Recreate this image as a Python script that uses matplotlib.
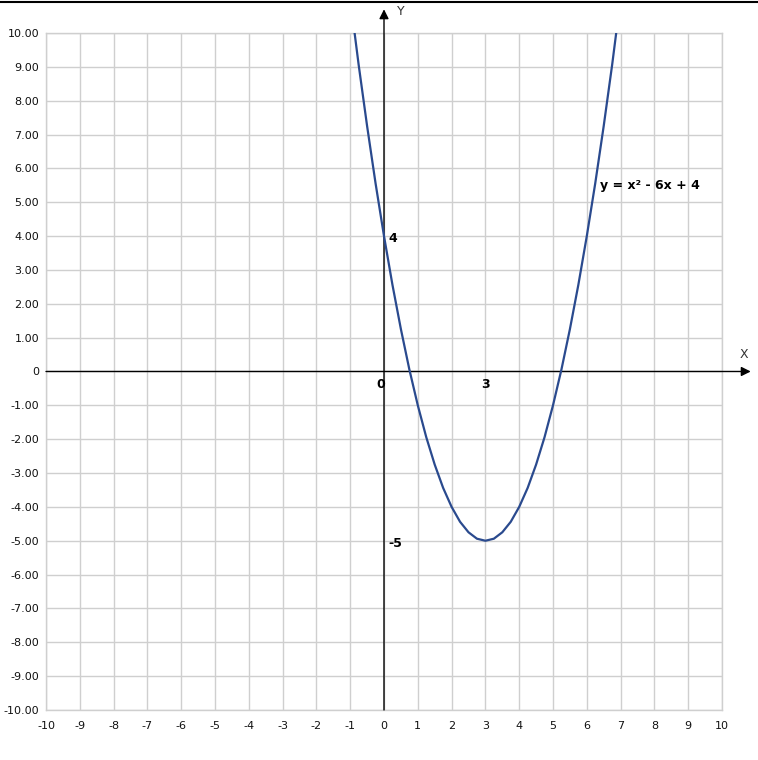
import matplotlib
matplotlib.use("Agg")
import matplotlib.pyplot as plt
from matplotlib.lines import Line2D
from matplotlib.ticker import FuncFormatter

plt.rcParams["axes.unicode_minus"] = False

curve_x = [-0.87, -0.75, -0.5, -0.25, 0, 0.25, 0.5, 0.75, 1, 1.25, 1.5, 1.75, 2,
           2.25, 2.5, 2.75, 3, 3.25, 3.5, 3.75, 4, 4.25, 4.5, 4.75, 5, 5.25,
           5.5, 5.75, 6, 6.25, 6.5, 6.75, 6.87]
curve_y = [10.0, 9.06, 7.25, 5.56, 4.0, 2.56, 1.25, 0.06, -1.0, -1.94, -2.75,
           -3.44, -4.0, -4.44, -4.75, -4.94, -5.0, -4.94, -4.75, -4.44, -4.0,
           -3.44, -2.75, -1.94, -1.0, 0.06, 1.25, 2.56, 4.0, 5.56, 7.25, 9.06, 10.0]
x_ticks = list(range(-10, 11))
y_ticks = list(range(-10, 11))
equation = "y = x² - 6x + 4"
marks = [(0, 0, "0"), (3, 0, "3"), (0, 4, "4"), (0, -5, "-5")]

fig = plt.figure(figsize=(7.58, 7.60), dpi=100)
ax = fig.add_axes([0.0607, 0.0658, 0.8918, 0.8908])
ax.set_xlim(-10, 10)
ax.set_ylim(-10, 10)

grid_color = "#cfcfcf"
ax.set_xticks(x_ticks)
ax.set_yticks(y_ticks)
ax.grid(True, color=grid_color, linewidth=1.0)
ax.set_axisbelow(True)
for s in ax.spines.values():
    s.set_color(grid_color)
    s.set_linewidth(1.0)

ax.yaxis.set_major_formatter(FuncFormatter(lambda v, p: "0" if v == 0 else f"{v:.2f}"))
ax.xaxis.set_major_formatter(FuncFormatter(lambda v, p: f"{int(v)}"))
ax.tick_params(axis="both", length=0, labelsize=8, colors="#111111")
ax.tick_params(axis="y", pad=5)
ax.tick_params(axis="x", pad=8)

# coordinate axes with arrows
ax.annotate("", xy=(10.85, 0), xytext=(-10, 0), annotation_clip=False,
            arrowprops=dict(arrowstyle="-|>", color="black", lw=1.0,
                            mutation_scale=14, shrinkA=0, shrinkB=0))
ax.annotate("", xy=(0, 10.7), xytext=(0, -10), annotation_clip=False,
            arrowprops=dict(arrowstyle="-|>", color="black", lw=1.0,
                            mutation_scale=14, shrinkA=0, shrinkB=0))
ax.text(10.65, 0.5, "X", fontsize=9, color="#333333", ha="center", va="center", clip_on=False)
ax.text(0.5, 10.63, "Y", fontsize=9, color="#333333", ha="center", va="center", clip_on=False)

ax.plot(curve_x, curve_y, color="#2a4a8e", linewidth=1.6, zorder=3)

ax.text(6.4, 5.5, equation, fontsize=9, fontweight="bold", ha="left", va="center")
for mx, my, lab in marks:
    if my == 0:
        ax.text(mx - (0.1 if mx == 0 else 0), -0.38, lab, fontsize=9, fontweight="bold",
                ha="center", va="center")
    else:
        ax.text(mx + 0.12, my - 0.08, lab, fontsize=9, fontweight="bold", ha="left", va="center")

fig.add_artist(Line2D([0, 1], [0.9975, 0.9975], color="black", linewidth=1.5))

fig.savefig("out.png", dpi=100)
